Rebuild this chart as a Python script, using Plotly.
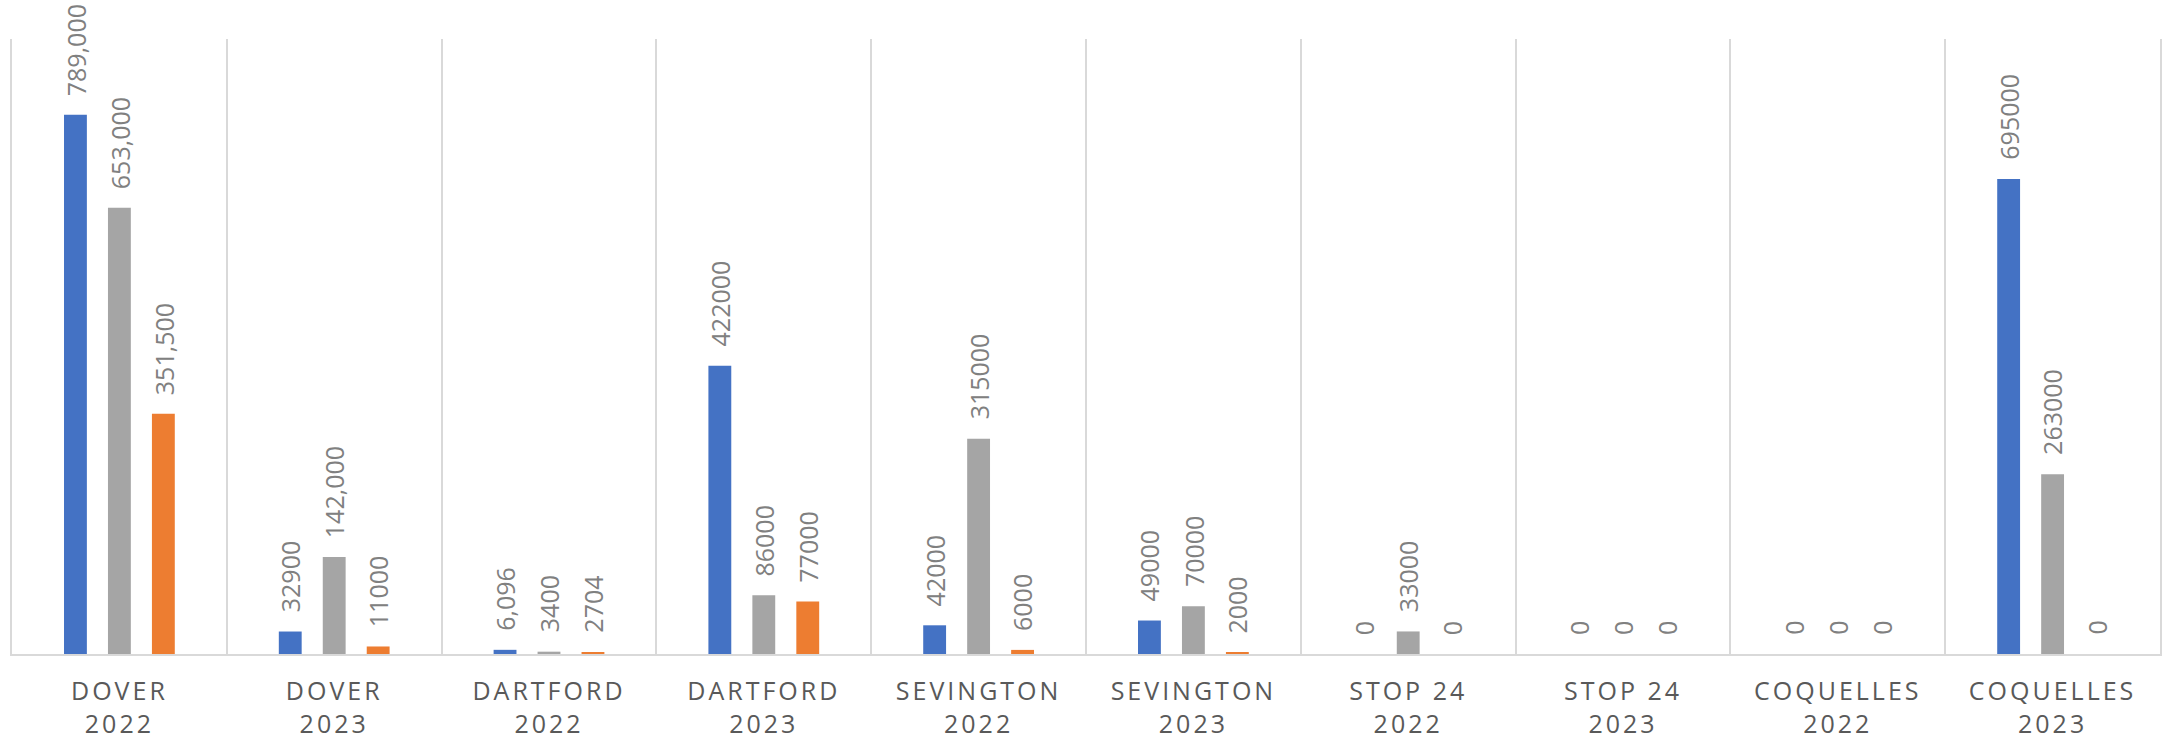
import plotly.graph_objects as go

places = ["DOVER", "DOVER", "DARTFORD", "DARTFORD", "SEVINGTON", "SEVINGTON",
          "STOP 24", "STOP 24", "COQUELLES", "COQUELLES"]
years = ["2022", "2023", "2022", "2023", "2022", "2023", "2022", "2023", "2022", "2023"]

blue_vals = [789000, 32900, 6096, 422000, 42000, 49000, 0, 0, 0, 695000]
gray_vals = [653000, 142000, 3400, 86000, 315000, 70000, 33000, 0, 0, 263000]
orange_vals = [351500, 11000, 2704, 77000, 6000, 2000, 0, 0, 0, 0]

blue_labels = ["789,000", "32900", "6,096", "422000", "42000", "49000", "0", "0", "0", "695000"]
gray_labels = ["653,000", "142,000", "3400", "86000", "315000", "70000", "33000", "0", "0", "263000"]
orange_labels = ["351,500", "11000", "2704", "77000", "6000", "2000", "0", "0", "0", "0"]

cats = [f"{p}<br>{y}" for p, y in zip(places, years)]
ticktext = [f'<span style="letter-spacing:3px">{p}</span><br><span style="letter-spacing:3px">{y}</span>'
            for p, y in zip(places, years)]

series = [
    ("Series 1", blue_vals, blue_labels, "#4472C4", -44),
    ("Series 2", gray_vals, gray_labels, "#A5A5A5", 0),
    ("Series 3", orange_vals, orange_labels, "#ED7D31", 44),
]

fig = go.Figure()
annotations = []
for name, vals, labels, color, shift in series:
    fig.add_trace(go.Bar(x=cats, y=vals, name=name, marker=dict(color=color, line=dict(width=0)),
                         hoverinfo="skip"))
    for c, v, t in zip(cats, vals, labels):
        annotations.append(dict(
            x=c, y=v, xref="x", yref="y", text=t, showarrow=False,
            textangle=-90, xanchor="center", yanchor="bottom",
            xshift=shift, yshift=17,
            font=dict(family="Open Sans", size=25, color="#808080"),
        ))

fig.update_layout(
    width=2163, height=741,
    margin=dict(l=12, r=1, t=39, b=86),
    paper_bgcolor="white", plot_bgcolor="white",
    barmode="group", bargap=0.386, bargroupgap=0.48,
    showlegend=False,
    annotations=annotations,
    font=dict(family="Open Sans"),
)
fig.update_xaxes(
    type="category", tickmode="array", tickvals=cats, ticktext=ticktext,
    tickson="boundaries", showgrid=True, gridcolor="#D9D9D9", gridwidth=1.5,
    showline=True, linecolor="#D9D9D9", linewidth=2, ticks="",
    tickfont=dict(family="Open Sans", size=25, color="#595959"),
    ticklabelstandoff=14, range=[-0.5, 9.5], fixedrange=True,
)
fig.update_yaxes(
    range=[0, 900000], showgrid=False, zeroline=False, showticklabels=False,
    showline=True, mirror=True, linecolor="#D9D9D9", linewidth=1.5, ticks="",
    fixedrange=True,
)

fig.write_html(
    "out.html",
    config={"displayModeBar": False},
    post_script="document.body.style.margin='0';document.body.style.overflow='hidden';",
)
